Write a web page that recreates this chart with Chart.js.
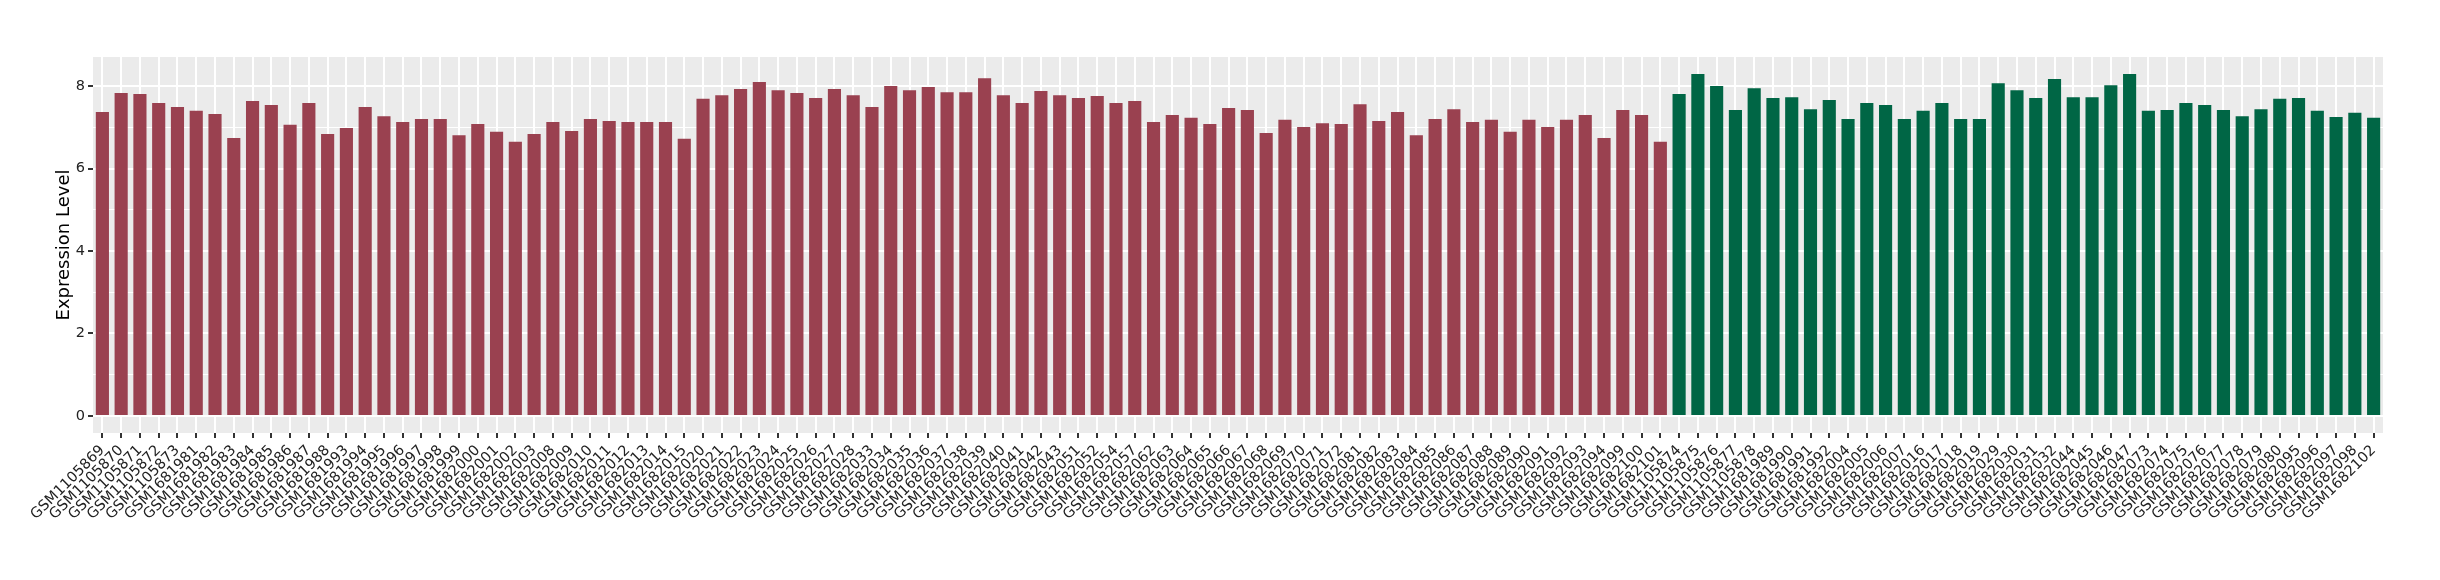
<!DOCTYPE html>
<html>
<head>
<meta charset="utf-8">
<script src="https://cdn.jsdelivr.net/npm/chart.js@4.4.1/dist/chart.umd.min.js"></script>
<style>
  html, body { margin: 0; padding: 0; background: #fff; }
  #wrap { width: 2440px; height: 580px; }
</style>
</head>
<body>
<div id="wrap"><canvas id="chart" width="2440" height="580"></canvas></div>
<script>
// first group (red)
const groupASamples = [
  'GSM1105869','GSM1105870','GSM1105871','GSM1105872','GSM1105873',
  'GSM1681981','GSM1681982','GSM1681983','GSM1681984','GSM1681985','GSM1681986','GSM1681987','GSM1681988',
  'GSM1681993','GSM1681994','GSM1681995','GSM1681996','GSM1681997','GSM1681998','GSM1681999',
  'GSM1682000','GSM1682001','GSM1682002','GSM1682003',
  'GSM1682008','GSM1682009','GSM1682010','GSM1682011','GSM1682012','GSM1682013','GSM1682014','GSM1682015',
  'GSM1682020','GSM1682021','GSM1682022','GSM1682023','GSM1682024','GSM1682025','GSM1682026','GSM1682027','GSM1682028',
  'GSM1682033','GSM1682034','GSM1682035','GSM1682036','GSM1682037','GSM1682038','GSM1682039','GSM1682040','GSM1682041','GSM1682042','GSM1682043',
  'GSM1682051','GSM1682052','GSM1682054','GSM1682057',
  'GSM1682062','GSM1682063','GSM1682064','GSM1682065','GSM1682066','GSM1682067','GSM1682068','GSM1682069','GSM1682070','GSM1682071','GSM1682072',
  'GSM1682081','GSM1682082','GSM1682083','GSM1682084','GSM1682085','GSM1682086','GSM1682087','GSM1682088','GSM1682089','GSM1682090','GSM1682091','GSM1682092','GSM1682093','GSM1682094',
  'GSM1682099','GSM1682100','GSM1682101'
];
const groupAValues = [
  7.37, 7.83, 7.81, 7.59, 7.49,
  7.40, 7.32, 6.74, 7.64, 7.54, 7.06, 7.59, 6.84,
  6.98, 7.49, 7.27, 7.13, 7.20, 7.20, 6.81,
  7.08, 6.89, 6.65, 6.84,
  7.13, 6.91, 7.20, 7.15, 7.13, 7.13, 7.13, 6.72,
  7.69, 7.78, 7.93, 8.10, 7.90, 7.83, 7.71, 7.93, 7.78,
  7.49, 8.00, 7.90, 7.98, 7.85, 7.85, 8.19, 7.78, 7.59, 7.88, 7.78,
  7.71, 7.76, 7.59, 7.64,
  7.13, 7.30, 7.23, 7.08, 7.47, 7.42, 6.86, 7.18, 7.01, 7.10, 7.08,
  7.56, 7.15, 7.37, 6.81, 7.20, 7.44, 7.13, 7.18, 6.89, 7.18, 7.01, 7.18, 7.30, 6.74,
  7.42, 7.30, 6.65
];

// second group (green)
const groupBSamples = [
  'GSM1105874','GSM1105875','GSM1105876','GSM1105877','GSM1105878',
  'GSM1681989','GSM1681990','GSM1681991','GSM1681992',
  'GSM1682004','GSM1682005','GSM1682006','GSM1682007',
  'GSM1682016','GSM1682017','GSM1682018','GSM1682019',
  'GSM1682029','GSM1682030','GSM1682031','GSM1682032',
  'GSM1682044','GSM1682045','GSM1682046','GSM1682047',
  'GSM1682073','GSM1682074','GSM1682075','GSM1682076','GSM1682077','GSM1682078','GSM1682079','GSM1682080',
  'GSM1682095','GSM1682096','GSM1682097','GSM1682098',
  'GSM1682102'
];
const groupBValues = [
  7.81, 8.29, 8.00, 7.42, 7.95,
  7.71, 7.73, 7.44, 7.66,
  7.20, 7.59, 7.54, 7.20,
  7.40, 7.59, 7.20, 7.20,
  8.07, 7.90, 7.71, 8.17,
  7.73, 7.73, 8.02, 8.29,
  7.40, 7.42, 7.59, 7.54, 7.42, 7.27, 7.44, 7.69,
  7.71, 7.40, 7.25, 7.35,
  7.23
];

const yTicks = [0, 2, 4, 6, 8];
const COLOR_A = '#9A4150';
const COLOR_B = '#006645';
const PANEL_BG = '#EBEBEB';
const TEXT = '#222222';

const labels = groupASamples.concat(groupBSamples);
const values = groupAValues.concat(groupBValues);
const colors = groupAValues.map(() => COLOR_A).concat(groupBValues.map(() => COLOR_B));

// grey panel behind the plot, like ggplot's theme_grey
const panelBg = {
  id: 'panelBg',
  beforeDraw(chart){
    const { ctx, chartArea: a } = chart;
    ctx.save();
    ctx.fillStyle = PANEL_BG;
    ctx.fillRect(a.left, a.top, a.right - a.left, a.bottom - a.top);
    ctx.restore();
  }
};

const isMajor = v => yTicks.includes(v);

new Chart(document.getElementById('chart'), {
  type: 'bar',
  data: {
    labels,
    datasets: [{
      label: 'Expression Level',
      data: values,
      backgroundColor: colors,
      borderWidth: 0,
      barPercentage: 0.7,
      categoryPercentage: 1.0
    }]
  },
  options: {
    responsive: false,
    animation: false,
    devicePixelRatio: 1,
    layout: { padding: { top: 57, right: 57, left: 0, bottom: 0 } },
    plugins: { legend: { display: false }, tooltip: { enabled: false } },
    scales: {
      x: {
        offset: true,
        border: { display: false },
        grid: { offset: false, color: '#ffffff', lineWidth: 2, tickColor: '#333333', tickLength: 5 },
        ticks: {
          autoSkip: false, minRotation: 45, maxRotation: 45, padding: 4,
          color: TEXT, font: { family: 'DejaVu Sans', size: 14.5 }
        },
        afterFit(scale){ scale.height = 147; }
      },
      y: {
        min: -0.415, max: 8.705,
        border: { display: false },
        grid: {
          color: '#ffffff',
          lineWidth: c => isMajor(c.tick.value) ? 2 : 1,
          tickColor: c => isMajor(c.tick.value) ? '#333333' : 'rgba(0,0,0,0)',
          tickLength: 5
        },
        ticks: {
          stepSize: 1, includeBounds: false, padding: 3,
          color: TEXT, font: { family: 'DejaVu Sans', size: 14.5 },
          callback: v => isMajor(v) ? String(v) : ''
        },
        title: {
          display: true, text: 'Expression Level', color: '#000',
          font: { family: 'DejaVu Sans', size: 18 },
          padding: { top: 54, bottom: 0 }
        },
        afterFit(scale){ scale.width = 93; }
      }
    }
  },
  plugins: [panelBg]
});
</script>
</body>
</html>
